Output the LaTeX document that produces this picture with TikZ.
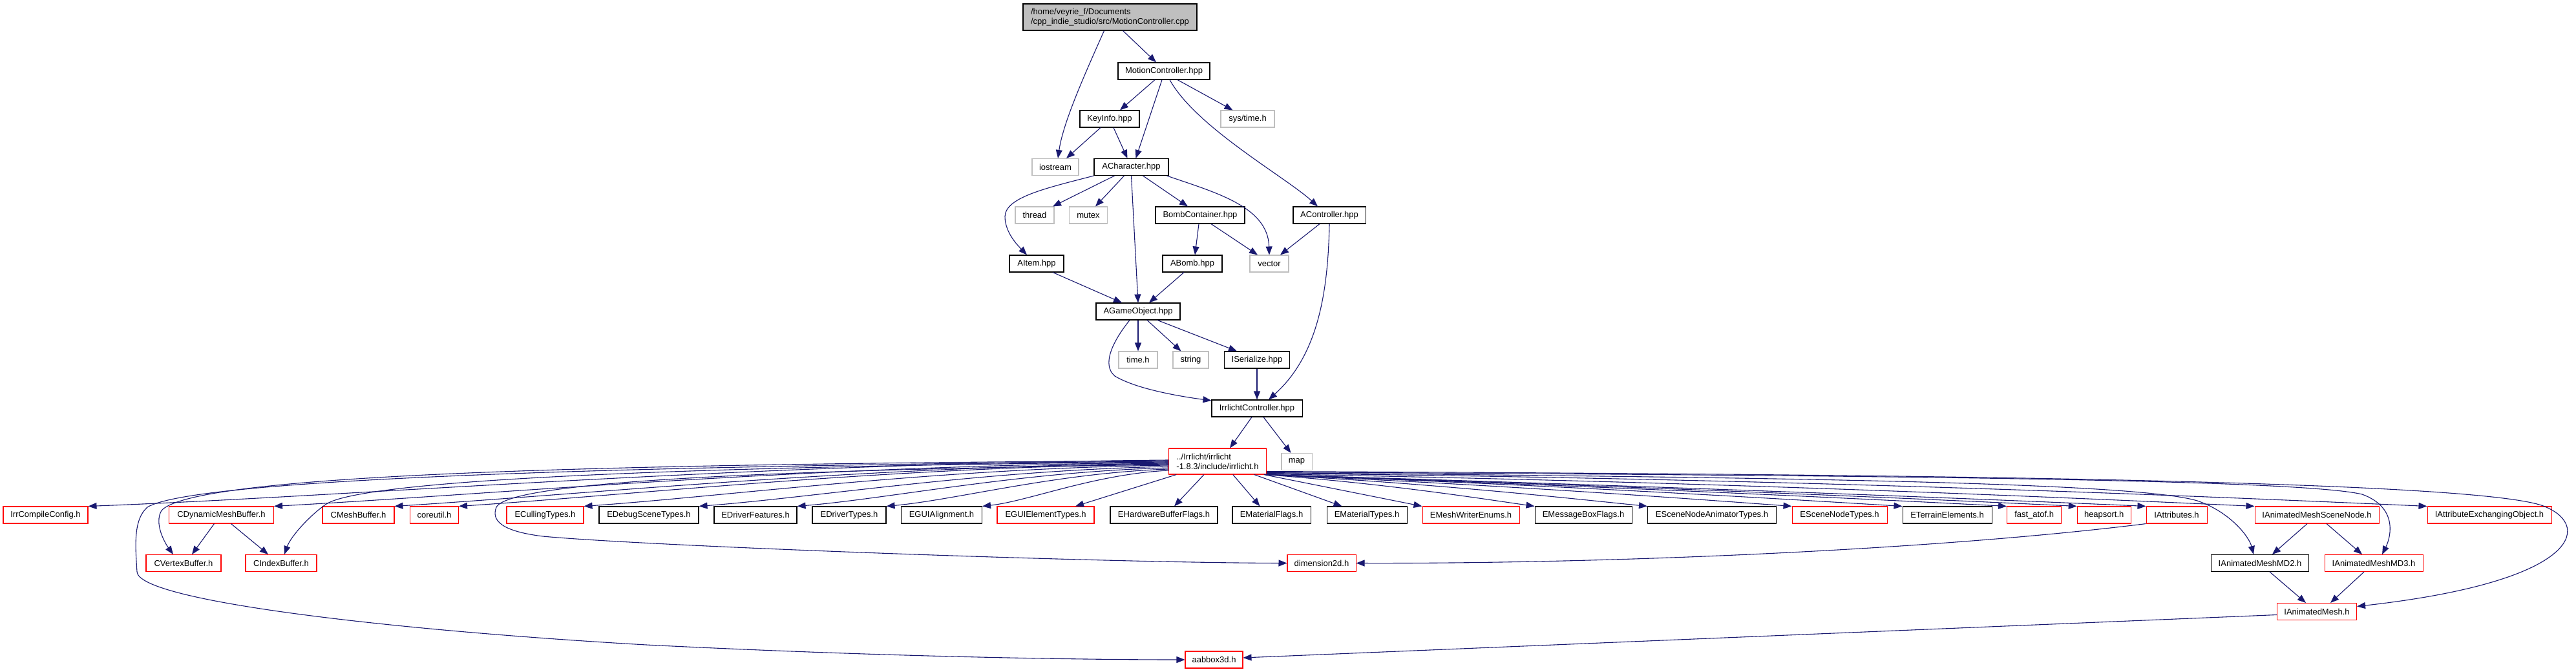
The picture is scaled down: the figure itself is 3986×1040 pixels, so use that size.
\documentclass[tikz,border=0pt]{standalone}
\usepackage{fontspec}
\setmainfont{Liberation Sans}
\usetikzlibrary{arrows.meta}
\definecolor{edgeblue}{HTML}{191970}
\definecolor{nodegrey}{HTML}{BFBFBF}
\definecolor{nodered}{HTML}{FF0000}
\begin{document}
\begin{tikzpicture}[x=1pt,y=-1pt,
  nbox/.style={draw=black, line width=1.05pt, minimum height=26pt, inner sep=0pt, font=\fontsize{13}{15}\selectfont, text=black},
  redbox/.style={nbox, draw=nodered},
  greybox/.style={nbox, draw=nodegrey},
  dep/.style={draw=edgeblue, line width=1.1pt, -{Triangle[length=13pt,width=10pt]}},
]
\fill[white] (0,0) rectangle (3986,1040);
\useasboundingbox (0,0) rectangle (3986,1040);

% upper part
\node[nbox, fill=nodegrey, minimum width=269pt, minimum height=41pt, align=left] (root) at (1717.5,26.5) {/home/veyrie\_f/Documents\\/cpp\_indie\_studio/src/MotionController.cpp};
\node[nbox, minimum width=142pt] (mc) at (1801,110) {MotionController.hpp};
\node[nbox, minimum width=92pt] (keyinfo) at (1717,184) {KeyInfo.hpp};
\node[greybox, minimum width=83pt] (systime) at (1930.5,184) {sys/time.h};
\node[greybox, minimum width=72pt] (iostream) at (1633,258.5) {iostream};
\node[nbox, minimum width=115pt] (achar) at (1750.5,258.5) {ACharacter.hpp};
\node[greybox, minimum width=60pt] (thread) at (1601,333) {thread};
\node[greybox, minimum width=59pt] (mutex) at (1684,333) {mutex};
\node[nbox, minimum width=138pt] (bombc) at (1857,333) {BombContainer.hpp};
\node[nbox, minimum width=112pt] (actrl) at (2057,333) {AController.hpp};
\node[nbox, minimum width=84pt] (aitem) at (1604,408) {AItem.hpp};
\node[nbox, minimum width=92pt] (abomb) at (1845,408) {ABomb.hpp};
\node[greybox, minimum width=60pt] (vector) at (1964,408) {vector};
\node[nbox, minimum width=130pt] (agame) at (1761,482) {AGameObject.hpp};
\node[greybox, minimum width=60pt] (timeh) at (1761,557) {time.h};
\node[greybox, minimum width=55pt] (string) at (1842.5,557) {string};
\node[nbox, minimum width=101pt] (iser) at (1945,557) {ISerialize.hpp};
\node[nbox, minimum width=140pt] (irrc) at (1945,632) {IrrlichtController.hpp};
\node[redbox, minimum width=150.5pt, minimum height=40pt, align=left] (irrh) at (1884,714) {../Irrlicht/irrlicht\\-1.8.3/include/irrlicht.h};
\node[greybox, minimum width=47pt] (map) at (2006.5,714.5) {map};

% row 1
\node[redbox, minimum width=131pt] (irrcfg) at (70.5,797) {IrrCompileConfig.h};
\node[redbox, minimum width=162pt] (cdyn) at (342.5,797) {CDynamicMeshBuffer.h};
\node[redbox, minimum width=111pt] (cmesh) at (554.5,797) {CMeshBuffer.h};
\node[redbox, minimum width=75pt] (coreu) at (672,797) {coreutil.h};
\node[redbox, minimum width=119pt] (ecull) at (843.5,797) {ECullingTypes.h};
\node[nbox, minimum width=154pt] (edebug) at (1004,797) {EDebugSceneTypes.h};
\node[nbox, minimum width=128pt] (edrvf) at (1169,797) {EDriverFeatures.h};
\node[nbox, minimum width=114pt] (edrvt) at (1314,797) {EDriverTypes.h};
\node[nbox, minimum width=125pt] (eguia) at (1457,797) {EGUIAlignment.h};
\node[redbox, minimum width=150pt] (eguie) at (1618,797) {EGUIElementTypes.h};
\node[nbox, minimum width=166pt] (ehw) at (1801,797) {EHardwareBufferFlags.h};
\node[nbox, minimum width=121pt] (emf) at (1967.5,797) {EMaterialFlags.h};
\node[nbox, minimum width=124pt] (emt) at (2115,797) {EMaterialTypes.h};
\node[redbox, minimum width=150pt] (emw) at (2276,797) {EMeshWriterEnums.h};
\node[nbox, minimum width=150pt] (emsg) at (2450,797) {EMessageBoxFlags.h};
\node[nbox, minimum width=199pt] (esna) at (2649,797) {ESceneNodeAnimatorTypes.h};
\node[redbox, minimum width=147pt] (esnt) at (2846.5,797) {ESceneNodeTypes.h};
\node[nbox, minimum width=138pt] (eter) at (3013,797) {ETerrainElements.h};
\node[redbox, minimum width=84pt] (fatof) at (3147.6,797) {fast\_atof.h};
\node[redbox, minimum width=83pt] (heap) at (3255.7,797) {heapsort.h};
\node[redbox, minimum width=94pt] (iattr) at (3368,797) {IAttributes.h};
\node[redbox, minimum width=192pt] (iamsn) at (3585,797) {IAnimatedMeshSceneNode.h};
\node[redbox, minimum width=192pt] (iaeo) at (3852,797) {IAttributeExchangingObject.h};

% row 2 and below
\node[redbox, minimum width=116pt] (cvb) at (284,871.5) {CVertexBuffer.h};
\node[redbox, minimum width=110pt] (cib) at (435,871.5) {CIndexBuffer.h};
\node[redbox, minimum width=106pt] (dim) at (2045,871.5) {dimension2d.h};
\node[nbox, minimum width=151pt] (md2) at (3497,871.5) {IAnimatedMeshMD2.h};
\node[redbox, minimum width=152pt] (md3) at (3673,871.5) {IAnimatedMeshMD3.h};
\node[redbox, minimum width=123pt] (iam) at (3585,946.5) {IAnimatedMesh.h};
\node[redbox, minimum width=89pt] (aab) at (1878.5,1021) {aabbox3d.h};

% upper edges
\draw[dep] ([xshift=-9pt]root.south) .. controls +(-28,63) and +(8,-56) .. ([xshift=4pt]iostream.north);
\draw[dep] ([xshift=20pt]root.south) -- ([xshift=-12pt]mc.north);
\draw[dep] ([xshift=-14pt]mc.south) -- ([xshift=16pt]keyinfo.north);
\draw[dep] ([xshift=-3pt]mc.south) -- ([xshift=7pt]achar.north);
\draw[dep] ([xshift=21pt]mc.south) -- ([xshift=-23pt]systime.north);
\draw[dep] ([xshift=9pt]mc.south) .. controls +(40,73) and +(-49,-45) .. ([xshift=-18pt]actrl.north);
\draw[dep] ([xshift=-14pt]keyinfo.south) -- ([xshift=17pt]iostream.north);
\draw[dep] ([xshift=6pt]keyinfo.south) -- ([xshift=-6pt]achar.north);
\draw[dep] (achar.south west) .. controls +(-73,19) and (1556,305) .. (1555,335) .. controls (1555,360) and (1575,380) .. ([xshift=-15pt]aitem.north);
\draw[dep] ([xshift=-26pt]achar.south) -- ([xshift=28pt]thread.north);
\draw[dep] ([xshift=-11pt]achar.south) -- ([xshift=11pt]mutex.north);
\draw[dep] (achar.south) -- (agame.north);
\draw[dep] ([xshift=18pt]achar.south) -- ([xshift=-19pt]bombc.north);
\draw[dep] ([xshift=-3pt]achar.south east) .. controls +(75,26) and +(-2,-75) .. (vector.north);
\draw[dep] ([xshift=-2pt]bombc.south) -- ([xshift=4pt]abomb.north);
\draw[dep] ([xshift=17pt]bombc.south) -- ([xshift=-18pt]vector.north);
\draw[dep] ([xshift=-15pt]actrl.south) -- ([xshift=17pt]vector.north);
\draw[dep] (actrl.south) .. controls +(-2,104) and +(77,-69) .. ([xshift=18pt]irrc.north);
\draw[dep] ([xshift=25pt]aitem.south) -- ([xshift=-25pt]agame.north);
\draw[dep] ([xshift=-13pt]abomb.south) -- ([xshift=17pt]agame.north);
\draw[dep] (agame.south) -- (timeh.north);
\draw[dep] ([xshift=14pt]agame.south) -- ([xshift=-15pt]string.north);
\draw[dep] ([xshift=30pt]agame.south) -- ([xshift=-31pt]iser.north);
\draw[dep] ([xshift=-13pt]agame.south) .. controls +(-28,35) and (1705,565) .. (1725,582) .. controls (1760,603) and (1830,614) .. ([yshift=12pt]irrc.west);
\draw[dep] (iser.south) -- (irrc.north);
\draw[dep] ([xshift=-8pt]irrc.south) -- ([xshift=19pt]irrh.north);
\draw[dep] ([xshift=10pt]irrc.south) -- ([xshift=-9pt]map.north);

% irrlicht.h to the left
\draw[dep] ([yshift=2pt]irrh.west) .. controls +(-669,6) and +(418,-16) .. (irrcfg.north east);
\draw[dep] ([yshift=-2pt]irrh.west) .. controls +(-554,4) and +(346,-19) .. (cdyn.north east);
\draw[dep] ([yshift=-3pt]irrh.west) .. controls +(-479,5) and +(300,-19) .. (cmesh.north east);
\draw[dep] ([yshift=-4pt]irrh.west) .. controls +(-440,5) and +(275,-18) .. (coreu.north east);
\draw[dep] ([yshift=-6pt]irrh.west) .. controls +(-362,5) and +(226,-16) .. (ecull.north east);
\draw[dep] ([yshift=-8pt]irrh.west) .. controls +(-291,6) and +(182,-14) .. (edebug.north east);
\draw[dep] ([yshift=-10pt]irrh.west) .. controls +(-230,6) and +(144,-12) .. (edrvf.north east);
\draw[dep] ([yshift=-12pt]irrh.west) .. controls +(-175,6) and +(109,-10) .. (edrvt.north east);
\draw[dep] ([yshift=-14pt]irrh.west) .. controls +(-116,6) and +(72,-8) .. (eguia.north east);
\draw[dep] ([xshift=12pt]irrh.south west) -- ([xshift=46pt]eguie.north);
\draw[dep] ([xshift=-21pt]irrh.south) -- ([xshift=16pt]ehw.north);
\draw[dep] ([xshift=-52pt]irrh.south east) -- ([xshift=-18pt]emf.north);
\draw[dep] ([xshift=-19pt]irrh.south east) -- ([xshift=24pt]emt.north west);
\draw[dep] ([xshift=-4pt]irrh.south east) -- (emw.north west);

% long loops on the left
\draw[dep] ([yshift=1pt]irrh.west) .. controls +(-908,5) and (300,735) .. (250,790) .. controls (238,810) and (255,840) .. ([xshift=-16pt]cvb.north);
\draw[dep] ([yshift=-1pt]irrh.west) .. controls +(-808,7) and (560,745) .. (505,780) .. controls (480,797) and (450,830) .. ([xshift=5pt]cib.north);
\draw[dep] ([yshift=-5pt]irrh.west) .. controls +(-508,7) and (790,740) .. (768,785) .. controls (760,805) and (775,822) .. (840,830) .. controls (1000,845) and (1700,871) .. (dim.west);
\draw[dep] (irrh.west) .. controls +(-808,6) and (300,740) .. (228,785) .. controls (205,805) and (210,850) .. (212,885) .. controls (215,930) and (600,975) .. (1000,998) .. controls (1400,1018) and (1700,1021) .. (aab.west);

% irrlicht.h to the right
\draw[dep] ([xshift=-2pt]irrh.south east) .. controls +(188,14) and +(-84,-12) .. (emsg.north west);
\draw[dep] ([xshift=-2pt]irrh.south east) .. controls +(267,14) and +(-119,-12) .. (esna.north west);
\draw[dep] ([xshift=-1pt]irrh.south east) .. controls +(367,16) and +(-163,-12) .. (esnt.north west);
\draw[dep] ([xshift=-1pt]irrh.south east) .. controls +(444,16) and +(-197,-12) .. (eter.north west);
\draw[dep] (irrh.south east) .. controls +(517,18) and +(-230,-12) .. (fatof.north west);
\draw[dep] (irrh.south east) .. controls +(566,18) and +(-251,-12) .. (heap.north west);
\draw[dep] (irrh.south east) .. controls +(614,18) and +(-273,-12) .. (iattr.north west);
\draw[dep] ([yshift=1pt]irrh.south east) .. controls +(689,12) and +(-306,-14) .. (iamsn.north west);
\draw[dep] ([yshift=2pt]irrh.south east) .. controls +(810,8) and +(-360,-16) .. (iaeo.north west);
\draw[dep] ([yshift=3pt]irrh.south east) .. controls +(741,7) and (3300,745) .. (3400,775) .. controls (3450,792) and (3480,830) .. ([xshift=-10pt]md2.north);
\draw[dep] ([yshift=4pt]irrh.south east) .. controls +(841,5) and (3550,740) .. (3655,765) .. controls (3710,785) and (3700,830) .. ([xshift=13pt]md3.north);
\draw[dep] ([yshift=5pt]irrh.south east) .. controls +(841,4) and (3850,740) .. (3940,785) .. controls (4010,815) and (3990,900) .. ([yshift=8pt]iam.east);

% lower edges
\draw[dep] ([xshift=-11pt]cdyn.south) -- ([xshift=13pt]cvb.north);
\draw[dep] ([xshift=15pt]cdyn.south) -- ([xshift=-20pt]cib.north);
\draw[dep] (iattr.south west) .. controls +(-321,40) and +(402,1) .. (dim.east);
\draw[dep] ([xshift=-15pt]iamsn.south) -- ([xshift=19pt]md2.north);
\draw[dep] ([xshift=15pt]iamsn.south) -- ([xshift=-18pt]md3.north);
\draw[dep] ([xshift=15pt]md2.south) -- ([xshift=-17pt]iam.north);
\draw[dep] ([xshift=-15pt]md3.south) -- ([xshift=21pt]iam.north);
\draw[dep] ([yshift=-5pt]iam.west) -- ([yshift=3pt]aab.east);
\end{tikzpicture}
\end{document}
